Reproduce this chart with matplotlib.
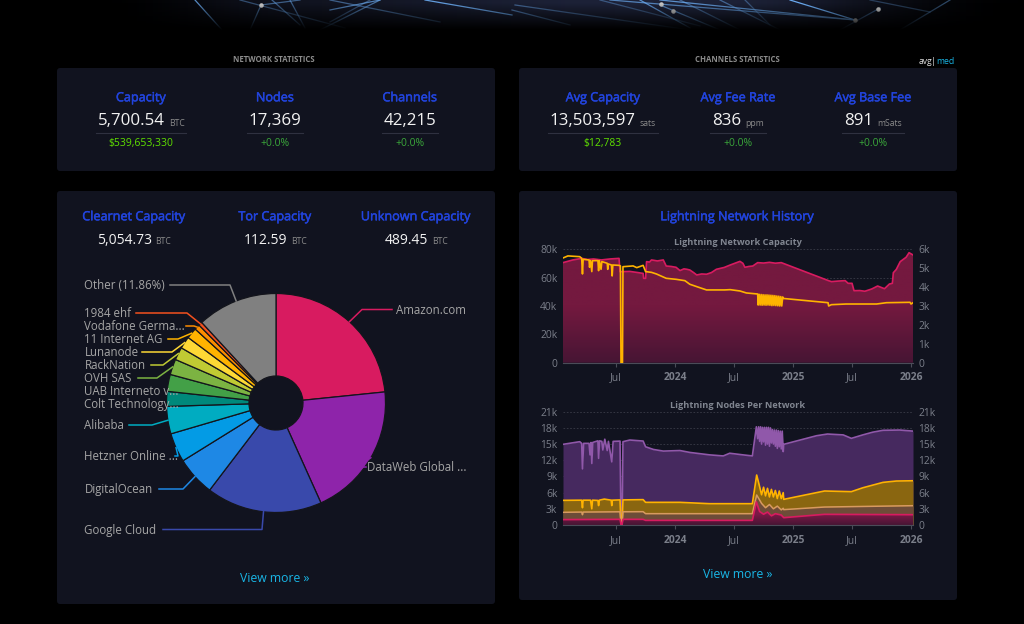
import numpy as np
import matplotlib
matplotlib.use("Agg")
import matplotlib.pyplot as plt
import matplotlib.patheffects as pe
from matplotlib.patches import FancyBboxPatch
from matplotlib.colors import LinearSegmentedColormap

plt.rcParams['font.family'] = ['Open Sans', 'DejaVu Sans']

# pie
pie_names = ["Amazon.com", "DataWeb Global ...", "Google Cloud", "DigitalOcean", "Hetzner Online ...",
             "Alibaba", "Colt Technology...", "UAB Interneto v...", "OVH SAS", "RackNation",
             "Lunanode", "11 Internet AG", "Vodafone Germa...", "1984 ehf", "Other (11.86%)"]
pie_share = [23.4, 19.9, 17.1, 5.8, 4.3, 4.05, 2.2, 2.5, 2.3, 1.9, 1.8, 1.6, 0.8, 0.55, 11.86]
pie_colors = ["#D81B60", "#8E24AA", "#3949AB", "#1E88E5", "#039BE5", "#00ACC1", "#00897B", "#43A047",
              "#7CB342", "#C0CA33", "#FDD835", "#FFB300", "#FB8C00", "#F4511E", "#808080"]

# x values of the history charts are months since Jan 2024
cap_m = [-11.4, -10.4, -9.5, -8.9, -8.3, -7.5, -6.6, -5.7, -5.6, -4.6, -3.8, -3.25, -3.2, -3.0, -2.9, -2.6, -2.4, -1.8, -1.2,
         -0.9, -0.4, 0.1, 0.5, 0.9, 1.2, 1.5, 1.9, 2.2, 2.7, 3.2, 3.7, 4.2, 5.0, 5.6, 6.6, 6.9, 7.1, 7.5, 7.9, 8.4, 9.0, 9.6,
         10.2, 10.8, 15.6, 15.9, 16.6, 17.3, 17.6, 18.0, 18.2, 18.8, 19.3, 20.0, 20.6, 21.3, 21.8, 22.1, 22.2, 22.5,
         22.9, 23.5, 23.8, 24.2]
cap_btc = [70.6, 72.5, 73.6, 72.8, 73.2, 72.5, 73.2, 73.6, 64.2, 64.4, 63.6, 63, 59.5, 59.5, 71.3, 71.0, 72.5, 71.8, 72.5,
           68.2, 67.9, 67.3, 65, 66.2, 65.9, 65.4, 63.5, 61.9, 62.6, 62.4, 63.6, 65.9, 67.2, 68.9, 71.5, 70.1, 67.3, 67.9, 68.2, 70.6, 70.3, 70.8,
           70.2, 70.6, 57.9, 57.2, 57.6, 57.9, 56, 56, 50.8, 50.9, 50.4, 52.0, 54.1, 52.2, 55.5, 56, 63.5, 65.8,
           71.3, 74.4, 77.6, 76]
chan_m = [-11.4, -10.9, -9.7, -9.5, -9.42, -9.35, -8.75, -8.7, -8.6, -8.47, -8.4, -7.85, -7.78, -7.7, -7.53, -7.45,
          -6.9, -6.85, -6.8, -6.47, -6.4, -6.33, -5.7, -5.56, -5.5, -5.35, -5.3, -4.27, -3.9, -3.25, -3, -2.4,
          -1.9, -0.9, 0.13, 1, 1.5, 2.2, 3.2, 5.05, 5.6, 6.6, 7.25, 8.4,
          8.45, 8.55, 8.65, 8.75, 8.85, 8.95, 9.05, 9.15, 9.25, 9.35, 9.45, 9.55, 9.65, 9.75, 9.85, 9.95, 10.05,
          10.15, 10.25, 10.35, 10.45, 10.55, 10.65, 10.75, 10.85, 10.95,
          11, 15.56, 15.62, 15.9, 17.4, 19.1, 20.5, 21.5, 23.9, 24, 24.2]
chan_n = [5540, 5650, 5610, 5525, 4695, 5470, 5435, 5050, 5400, 4820, 5400, 5400, 4870, 5400, 4940, 5350,
          5260, 4940, 5225, 5170, 4590, 5170, 5150, 5120, 0, 0, 5080, 5120, 5030, 5150, 4820, 4780,
          4695, 4465, 4410, 4340, 4150, 4025, 3850, 3850, 3865, 3795, 3690, 3635,
          3050, 3620, 3050, 3610, 3040, 3600, 3050, 3590, 3040, 3590, 3050, 3580, 3040, 3570, 3020, 3560, 3030,
          3550, 3020, 3530, 3010, 3520, 3000, 3500, 3000, 3480,
          3400, 3175, 3000, 3070, 3105, 3105, 3105, 3175, 3195, 3105, 3175]

total_m = [-11.4, -9.7, -9.5, -9.42, -9.3, -8.75, -8.65, -8.55, -8.47, -8.37, -7.85, -7.78, -7.68, -7.45, -7.35, -7.15,
           -6.9, -6.78, -6.44, -6.3, -5.6, -5.5, -5.39, -5.3, -4.6, -3.25, -3, -2.2, -1.2, 0.5, 1.5, 3.5, 4.9,
           5.56, 6.9, 7.86, 8.27,
           8.4, 8.5, 8.6, 8.7, 8.8, 8.9, 9.0, 9.1, 9.2, 9.3, 9.4, 9.5, 9.6, 9.7, 9.8, 9.9, 10.0, 10.1, 10.2, 10.3,
           10.4, 10.5, 10.6, 10.7, 10.8, 10.9, 11,
           11.05, 14.4, 15.5, 17.1, 17.93, 19.1, 20.1, 21.15, 22.85, 24.2]
total_n = [14.95, 15.44, 15.13, 10.4, 15.13, 15.13, 13, 15.3, 11.4, 15.3, 15.6, 12.35, 15.6, 15.5, 13.9, 15.9,
           13.8, 15.5, 11.7, 15.5, 15.55, 0.3, 0.3, 15.44, 15.75, 15.56, 14.5, 14, 13.7, 13.8, 13.45, 13, 12.8,
           13.3, 13, 12.8, 18.2,
           16, 18.2, 15.5, 18.2, 15, 18.1, 15.4, 18.1, 14.8, 18.1, 15, 18.1, 14.6, 18.0, 15.2, 17.7, 15, 17.6, 14.6, 17.6,
           14.2, 17.5, 14.5, 17.4, 14.1, 17.4, 13.6,
           14.95, 16.55, 16.86, 16.7, 16.06, 16.7, 17.2, 17.55, 17.6, 17.4]
clearnet_m = [-11.4, -9.5, -9.42, -9.35, -8.6, -8.47, -8.4, -7.85, -7.78, -7.7, -7.2, -6.5, -6.44, -6.38, -5.6, -5.5,
              -5.39, -5.3, -3.25, -3, 0.5, 3.5, 7.86, 8.3, 8.6, 8.8, 9.0, 9.2, 9.4, 9.6, 9.8, 10.0, 10.2, 10.4,
              10.6, 10.8, 11, 11.05, 15.2, 17.93, 19.1, 21.15, 22.5, 24.2]
clearnet_n = [4.57, 4.6, 3.2, 4.6, 4.6, 3.0, 4.6, 4.55, 3.6, 4.6, 4.8, 4.6, 3.6, 4.6, 4.65, 0.3,
              0.3, 4.65, 4.7, 4.2, 4.2, 3.95, 3.95, 9.26, 7.1, 5.6, 7, 5.4, 6.8, 5.2, 6.6, 5.2, 6.4, 4.9,
              6.3, 4.9, 6.0, 4.75, 6.3, 6.18, 6.9, 7.9, 8.15, 8.2]
tor_m = [-11.4, -9.5, -9.42, -9.35, -5.6, -5.5, -5.39, -5.3, -3.25, -3, 7.86, 8.3, 8.8, 9.2, 9.6, 10, 10.4, 10.8, 11,
         11.05, 15.2, 24.2]
tor_n = [2.35, 2.4, 1.9, 2.4, 2.45, 0.2, 0.2, 2.45, 2.47, 2.1, 2.1, 5.56, 4, 3.2, 3.8, 3.0, 3.5, 2.8, 3.1,
         2.85, 3.33, 3.58]
unknown_m = [-11.4, -5.6, -5.5, -5.39, -5.3, -3.25, -3, 7.86, 8.27, 8.6, 9.0, 9.4, 9.8, 10.2, 10.8, 11.05, 15.2, 24.2]
unknown_n = [1.0, 1.05, 0.1, 0.1, 1.05, 1.05, 0.86, 0.86, 4.3, 2.5, 2.0, 2.4, 1.7, 2.1, 1.85, 1.36, 1.98, 1.91]

month_ticks = [-6, 0, 6, 12, 18, 24]
month_labels = ["Jul", "2024", "Jul", "2025", "Jul", "2026"]

BG = "#000000"
PANEL = "#11131f"
BLUE = "#2244dd"
GREY = "#7b7f8a"
PINK = "#D81B60"
AMBER = "#FFB300"
SEMI = [pe.withStroke(linewidth=0.35, foreground=BLUE)]

fig = plt.figure(figsize=(10.24, 6.24), dpi=100, facecolor=BG)

# the whole figure as one axes in pixels, for panels and text
page = fig.add_axes([0, 0, 1, 1])
page.set_xlim(0, 1024)
page.set_ylim(624, 0)
page.axis("off")

# banner at the top
banner_bg = LinearSegmentedColormap.from_list("b", ["#000000", "#1d2238"])
glow = np.array([[0.0, 0.0, 0.55, 0.6, 0.8, 1.0, 1.0, 1.0, 0.45, 0.0]])
page.imshow(glow, extent=(0, 1024, 30, 0), cmap=banner_bg, aspect="auto", interpolation="bicubic", zorder=0)
beams = [(195, 0, 222, 30, .8), (261, 5, 250, 30, .5), (261, 5, 300, 0, .5), (290, 0, 305, 28, .5), (240, 0, 345, 28, .4),
         (330, 10, 380, 0, .7), (320, 30, 380, 0, .6), (330, 0, 440, 22, .5), (425, 0, 512, 15, .9), (512, 10, 570, 25, .6),
         (660, 0, 855, 20, .8), (610, 0, 855, 20, .7), (790, 0, 855, 20, 1), (660, 5, 720, 30, .7), (720, 0, 780, 30, .5),
         (880, 8, 840, 30, .4), (950, 0, 900, 30, .4), (515, 5, 690, 30, .5), (640, 0, 690, 28, .8), (870, 0, 930, 12, .3),
         (272, 0, 300, 25, .5), (370, 0, 330, 22, .4), (600, 0, 700, 26, .4), (680, 0, 740, 30, .5), (745, 0, 770, 25, .4)]
for x0, y0, x1, y1, a in beams:
    page.plot([x0, x1], [y0, y1], color="#6aaaf0", lw=0.9, alpha=a, zorder=1)
stars = [(261, 5), (661, 4), (673, 11), (855, 20), (878, 9)]
page.scatter([s[0] for s in stars], [s[1] for s in stars], s=5, color="#c8c8c8", zorder=2)
fade = np.zeros((40, 1, 4))
fade[:, 0, 3] = np.clip(np.linspace(-0.1, 1.15, 40), 0, 1)
page.imshow(fade, extent=(0, 1024, 34, 0), aspect="auto", zorder=3)
page.set_xlim(0, 1024)
page.set_ylim(624, 0)


def panel(x0, y0, x1, y1):
    page.add_patch(FancyBboxPatch((x0 + 3, y0 + 3), x1 - x0 - 6, y1 - y0 - 6, boxstyle="round,pad=3,rounding_size=3",
                                  fc=PANEL, ec="none", zorder=4))


panel(57, 68, 495, 171)
panel(519, 68, 957, 171)
panel(57, 191, 495, 604)
panel(519, 191, 957, 600)

renderer = fig.canvas.get_renderer()


def stat(cx, head, value, unit, sub, sub_color, head_size=9.1, value_size=12.2, y0=97):
    page.text(cx, y0 + 0.8, head, color=BLUE, fontsize=head_size, ha="center", va="center", zorder=6, path_effects=SEMI)
    v = page.text(cx, y0 + 24.3, value, color="#f2f2f2", fontsize=value_size, ha="left", va="center", zorder=6)
    w = v.get_window_extent(renderer).width
    total = w
    u = None
    if unit:
        u = page.text(cx, y0 + 26, unit, color="#8a8a8a", fontsize=6.2, ha="left", va="center", zorder=6)
        total = w + 4 + u.get_window_extent(renderer).width
    left = cx - total / 2
    v.set_x(left)
    if u:
        u.set_x(left + w + 4)
    if sub:
        page.plot([left - 2, left + total + 2], [y0 + 36, y0 + 36], color="#2f3140", lw=0.8, zorder=6)
        page.text(cx, y0 + 46.6, sub, color=sub_color, fontsize=7.5, ha="center", va="center", zorder=6)


page.text(274, 60, "NETWORK STATISTICS", color="#8c8c8c", fontsize=5.6, fontweight="bold", ha="center", va="center", zorder=6)
page.text(737, 60, "CHANNELS STATISTICS", color="#8c8c8c", fontsize=5.6, fontweight="bold", ha="center", va="center", zorder=6)
page.text(925, 61, "avg", color="#dddddd", fontsize=6.2, ha="center", va="center", zorder=6)
page.text(933, 61, "|", color="#dddddd", fontsize=6.2, ha="center", va="center", zorder=6)
page.text(945, 61, "med", color="#19b6e6", fontsize=6.2, ha="center", va="center", zorder=6)

LIME = "#5fe000"
GREEN = "#3aa63a"
stat(141, "Capacity", "5,700.54", "BTC", "$539,653,330", LIME)
stat(275, "Nodes", "17,369", "", "+0.0%", GREEN)
stat(410, "Channels", "42,215", "", "+0.0%", GREEN)
stat(603, "Avg Capacity", "13,503,597", "sats", "$12,783", LIME)
stat(738, "Avg Fee Rate", "836", "ppm", "+0.0%", GREEN)
stat(873, "Avg Base Fee", "891", "mSats", "+0.0%", GREEN)
stat(134, "Clearnet Capacity", "5,054.73", "BTC", "", LIME, value_size=10, y0=216)
stat(275, "Tor Capacity", "112.59", "BTC", "", LIME, value_size=10, y0=216)
stat(416, "Unknown Capacity", "489.45", "BTC", "", LIME, value_size=10, y0=216)

page.text(737.5, 216.8, "Lightning Network History", color=BLUE, fontsize=9.1, ha="center", va="center", zorder=6, path_effects=SEMI)
page.text(275, 578.8, "View more »", color="#19b6e6", fontsize=8.8, ha="center", va="center", zorder=6)
page.text(737.5, 574.8, "View more »", color="#19b6e6", fontsize=8.8, ha="center", va="center", zorder=6)


def box(x0, y0, x1, y1):
    return [x0 / 1024, 1 - y1 / 624, (x1 - x0) / 1024, (y1 - y0) / 624]


# doughnut
pie_r = 109.5
pie_ax = fig.add_axes(box(276 - pie_r, 403 - pie_r, 276 + pie_r, 403 + pie_r))
pie_ax.patch.set_alpha(0)
wedges, _ = pie_ax.pie(pie_share, colors=pie_colors, startangle=90, counterclock=False, radius=1.0,
                       wedgeprops=dict(width=1 - 27 / pie_r, edgecolor="#14151c", linewidth=0.9))
pie_ax.set_xlim(-1, 1)
pie_ax.set_ylim(-1, 1)

# label rows: text x, text y, end of the horizontal leader part (start, elbow)
label_x = [396, 367, 84.5, 84.5, 84.5, 84.5, 84.5, 84.5, 84.5, 84.5, 84.5, 84.5, 84.5, 84.5, 84.5]
label_y = [309.5, 467, 529.5, 489, 456, 425, 404, 391, 378, 365, 352, 339, 326, 313, 285]
lead_x = [(392, 362), (366, 358), (163, 262), (159, 183), (175, 178), (129, 152), None, None, (138, 157), (151, 163),
          (142, 172), (168, 178), (186, 194), (136, 187), (170, 230)]
fig_ax = fig.add_axes([0, 0, 1, 1])
fig_ax.set_xlim(0, 1024)
fig_ax.set_ylim(624, 0)
fig_ax.axis("off")
for w, name, lx, ly, lead in zip(wedges, pie_names, label_x, label_y, lead_x):
    if lead:
        mid = np.deg2rad((w.theta1 + w.theta2) / 2)
        end_x = 276 + pie_r * np.cos(mid)
        end_y = 403 - pie_r * np.sin(mid)
        fig_ax.plot([lead[0], lead[1], end_x], [ly, ly, end_y], color=w.get_facecolor(), lw=1.1)
    fig_ax.text(lx, ly + 0.7, name, color="#a6a6a6", fontsize=8.3, ha="left", va="center")


def style_chart(ax, title, tops, left_labels, right_labels):
    ax.patch.set_alpha(0)
    ax.set_xlim(-11.4, 24.2)
    ax.set_ylim(0, tops[0])
    for s in ax.spines.values():
        s.set_visible(False)
    ax.spines["bottom"].set_visible(True)
    ax.spines["bottom"].set_color("#4a4c58")
    ax.set_xticks(month_ticks)
    ax.set_xticklabels(month_labels, color=GREY, fontsize=7.4)
    for lab in ax.get_xticklabels():
        if lab.get_text() != "Jul":
            lab.set_fontweight("bold")
    ax.tick_params(axis="x", length=3, color="#4a4c58", pad=4)
    ax.tick_params(axis="y", length=0, pad=4)
    ax.set_yticks(np.linspace(0, tops[0], len(left_labels)))
    ax.set_yticklabels(left_labels, color=GREY, fontsize=7.4)
    ax.grid(axis="y", color="#3a3c48", lw=0.6, ls=(0, (2, 2)), zorder=0)
    ax.set_axisbelow(True)
    right = ax.twinx()
    right.patch.set_alpha(0)
    right.set_ylim(0, tops[1])
    for s in right.spines.values():
        s.set_visible(False)
    right.set_yticks(np.linspace(0, tops[1], len(right_labels)))
    right.set_yticklabels(right_labels, color=GREY, fontsize=7.4)
    right.tick_params(axis="y", length=0, pad=4)
    ax.set_title(title, color="#808590", fontsize=6.6, fontweight="bold", pad=2.8)
    return right


def gradient_fill(ax, xs, ys, top_rgb, bottom_rgb, ymax, z):
    poly = ax.fill_between(xs, 0, ys, color="none", zorder=z)
    cmap = LinearSegmentedColormap.from_list("g", [bottom_rgb, top_rgb, top_rgb])
    img = ax.imshow(np.linspace(1, 0, 64).reshape(-1, 1), extent=(-11.4, 24.2, 0, ymax), aspect="auto", cmap=cmap,
                    zorder=z, vmin=0, vmax=1)
    img.set_clip_path(poly.get_paths()[0], transform=ax.transData)


# capacity chart
cap_ax = fig.add_axes(box(563, 249.3, 913, 362.7))
cap_right = style_chart(cap_ax, "Lightning Network Capacity", (80, 6000),
                        ["0", "20k", "40k", "60k", "80k"], ["0", "1k", "2k", "3k", "4k", "5k", "6k"])
gradient_fill(cap_ax, cap_m, cap_btc, "#74193f", "#471534", 80, 1)
cap_ax.plot(cap_m, cap_btc, color=PINK, lw=1.2, zorder=3)
cap_ax.set_xlim(-11.4, 24.2)
cap_ax.set_ylim(0, 80)
cap_right.plot(chan_m, chan_n, color=AMBER, lw=1.2, zorder=4)
cap_right.set_xlim(-11.4, 24.2)

# nodes chart
node_ax = fig.add_axes(box(563, 411.7, 913, 525))
node_right = style_chart(node_ax, "Lightning Nodes Per Network", (21, 21),
                         ["0", "3k", "6k", "9k", "12k", "15k", "18k", "21k"],
                         ["0", "3k", "6k", "9k", "12k", "15k", "18k", "21k"])
node_ax.fill_between(total_m, 0, total_n, color="#46295f", lw=0, zorder=1)
node_ax.fill_between(clearnet_m, 0, clearnet_n, color="#8a6610", lw=0, zorder=1.1)
node_ax.fill_between(tor_m, 0, tor_n, color="#6d4c38", lw=0, zorder=1.2)
gradient_fill(node_ax, unknown_m, unknown_n, "#7d1a47", "#471534", 4, 1.3)
node_ax.plot(total_m, total_n, color="#9058aa", lw=1.2, zorder=2)
node_ax.plot(clearnet_m, clearnet_n, color=AMBER, lw=1.2, zorder=2.1)
node_ax.plot(tor_m, tor_n, color="#d89a60", lw=1.1, zorder=2.2)
node_ax.plot(unknown_m, unknown_n, color=PINK, lw=1.2, zorder=2.3)
node_ax.set_xlim(-11.4, 24.2)
node_ax.set_ylim(0, 21)

fig.savefig("out.png", dpi=100, facecolor=BG)
